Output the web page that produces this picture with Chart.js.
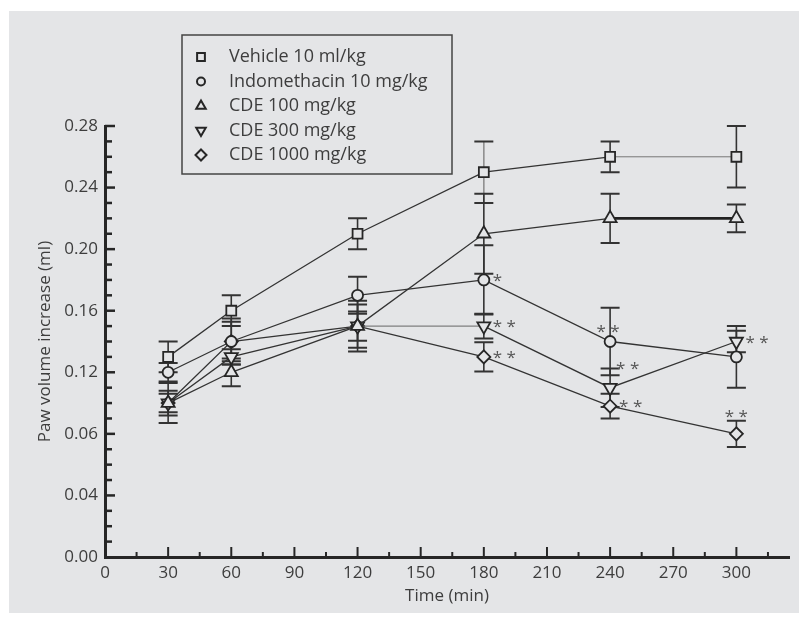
<!DOCTYPE html>
<html lang="en">
<head>
<meta charset="UTF-8">
<title>Paw volume increase</title>
<script src="https://cdn.jsdelivr.net/npm/chart.js"></script>
<style>
  body { margin: 0; background: #fff; }
  canvas { display: block; }
</style>
</head>
<body>
<canvas id="paw" width="806" height="623"></canvas>
<script>
// --- data ---
const times = [30, 60, 120, 180, 240, 300];
const seriesNames = ['Vehicle 10 ml/kg', 'Indomethacin 10 mg/kg', 'CDE 100 mg/kg', 'CDE 300 mg/kg', 'CDE 1000 mg/kg'];

const vehicle    = [0.13, 0.16, 0.21, 0.25, 0.26, 0.26];
const vehicleErr = [0.010, 0.010, 0.010, 0.020, 0.010, 0.020];
const indo       = [0.12, 0.14, 0.17, 0.18, 0.14, 0.13];
const indoErr    = [0.006, 0.015, 0.012, 0.0225, 0.022, 0.020];
const cde100     = [0.10, 0.12, 0.15, 0.21, 0.22, 0.22];
const cde100Err  = [0.008, 0.009, 0.014, 0.026, 0.016, 0.009];
const cde300     = [0.10, 0.13, 0.15, 0.15, 0.11, 0.14];
const cde300Err  = [0.006, 0.005, 0.0095, 0.008, 0.0125, 0.007];
const cde1000    = [0.10, 0.14, 0.15, 0.13, 0.098, 0.08];
const cde1000Err = [0.013, 0.0128, 0.0165, 0.0095, 0.008, 0.0085];

const xTicks = [0, 30, 60, 90, 120, 150, 180, 210, 240, 270, 300];
const yTicks = [0, 0.04, 0.08, 0.12, 0.16, 0.20, 0.24, 0.28];
const yTickLabels = ['0.00', '0.04', '0.06', '0.12', '0.16', '0.20', '0.24', '0.28'];

// significance marks: series index, time, text, where it sits
const stars = [
  { s: 1, t: 180, text: '*',   at: 'right' },
  { s: 3, t: 180, text: '* *', at: 'right' },
  { s: 4, t: 180, text: '* *', at: 'right' },
  { s: 1, t: 240, text: '* *', at: 'above' },
  { s: 3, t: 240, text: '* *', at: 'upright' },
  { s: 4, t: 240, text: '* *', at: 'right' },
  { s: 3, t: 300, text: '* *', at: 'right' },
  { s: 4, t: 300, text: '* *', at: 'overbar' }
];

const values = [vehicle, indo, cde100, cde300, cde1000];
const errors = [vehicleErr, indoErr, cde100Err, cde300Err, cde1000Err];

// --- look ---
const BG = '#e4e5e7';
const INK = '#262626';
const TEXT = '#3d3d3d';
const FONT = "'Open Sans', sans-serif";
const markers = [
  { style: 'rect', r: 7, rot: 0 },
  { style: 'circle', r: 5.5, rot: 0 },
  { style: 'triangle', r: 7.5, rot: 0 },
  { style: 'triangle', r: 7.5, rot: 180 },
  { style: 'rectRot', r: 6.5, rot: 0 }
];
// a few segments are drawn lighter or heavier in the original
const segStyle = [
  { 4: { w: 1, c: '#777' } },
  {},
  { 4: { w: 2.6, c: '#222' } },
  { 2: { w: 1, c: '#666' } },
  {}
];

Chart.defaults.font.family = FONT;
Chart.defaults.color = TEXT;

function drawMarker(ctx, m, x, y, r) {
  ctx.beginPath();
  if (m.style === 'circle') {
    ctx.arc(x, y, r, 0, Math.PI * 2);
  } else if (m.style === 'rect') {
    const h = r * Math.SQRT1_2;
    ctx.rect(x - h, y - h, 2 * h, 2 * h);
  } else if (m.style === 'rectRot') {
    ctx.moveTo(x, y - r); ctx.lineTo(x + r, y); ctx.lineTo(x, y + r); ctx.lineTo(x - r, y);
    ctx.closePath();
  } else {
    const d = m.rot ? -1 : 1;
    ctx.moveTo(x, y - d * r);
    ctx.lineTo(x + r * 0.866, y + d * r / 2);
    ctx.lineTo(x - r * 0.866, y + d * r / 2);
    ctx.closePath();
  }
  ctx.fill();
  ctx.stroke();
}

const background = {
  id: 'background',
  beforeDraw(chart) {
    const ctx = chart.ctx;
    ctx.save();
    ctx.fillStyle = '#fff';
    ctx.fillRect(0, 0, chart.width, chart.height);
    ctx.fillStyle = BG;
    ctx.fillRect(9, 11, 790, 602);
    ctx.restore();
  }
};

const errorBars = {
  id: 'errorBars',
  beforeDatasetsDraw(chart) {
    const { ctx, scales: { x, y } } = chart;
    ctx.save();
    values.forEach((vals, i) => {
      vals.forEach((v, j) => {
        const px = x.getPixelForValue(times[j]);
        const top = y.getPixelForValue(v + errors[i][j]);
        const bot = y.getPixelForValue(v - errors[i][j]);
        ctx.strokeStyle = (i === 0 && times[j] === 180) ? '#8e8e8e' : '#333';
        ctx.lineWidth = 1.6;
        ctx.beginPath();
        ctx.moveTo(px, top); ctx.lineTo(px, bot);
        ctx.stroke();
        ctx.strokeStyle = '#333';
        ctx.lineWidth = 2;
        ctx.beginPath();
        ctx.moveTo(px - 9.5, top); ctx.lineTo(px + 9.5, top);
        ctx.moveTo(px - 9.5, bot); ctx.lineTo(px + 9.5, bot);
        ctx.stroke();
      });
    });
    ctx.restore();
  }
};

const innerTicks = {
  id: 'innerTicks',
  afterDraw(chart) {
    const { ctx, scales: { x, y } } = chart;
    ctx.save();
    ctx.strokeStyle = INK;
    // x ticks every 15, labelled ones longer
    ctx.lineWidth = 2;
    for (let t = 15; t <= x.max; t += 15) {
      const px = x.getPixelForValue(t);
      const len = t % 30 === 0 ? 10 : 5;
      ctx.beginPath();
      ctx.moveTo(px, y.bottom); ctx.lineTo(px, y.bottom - len);
      ctx.stroke();
    }
    // y ticks every 0.01
    ctx.lineWidth = 2.5;
    for (let k = 1; k <= 28; k++) {
      const py = y.getPixelForValue(k / 100);
      const len = k % 4 === 0 ? 10 : 7;
      ctx.beginPath();
      ctx.moveTo(x.left, py); ctx.lineTo(x.left + len, py);
      ctx.stroke();
    }
    ctx.restore();
  }
};

const legendAndStars = {
  id: 'legendAndStars',
  afterDraw(chart) {
    const { ctx, scales: { x, y } } = chart;
    ctx.save();
    // legend box
    ctx.strokeStyle = '#444';
    ctx.lineWidth = 1.5;
    ctx.strokeRect(182, 35, 270, 139);
    ctx.font = '18px ' + FONT;
    ctx.textBaseline = 'middle';
    ctx.textAlign = 'left';
    seriesNames.forEach((name, i) => {
      const cy = 57 + i * 24.5;
      ctx.fillStyle = BG;
      ctx.strokeStyle = INK;
      ctx.lineWidth = 2;
      drawMarker(ctx, markers[i], 201, cy, markers[i].style === 'circle' ? 4 : 5.5);
      ctx.fillStyle = TEXT;
      ctx.fillText(name, 229, cy);
    });
    // significance marks
    ctx.font = '17px ' + FONT;
    ctx.textBaseline = 'alphabetic';
    ctx.fillStyle = '#555';
    stars.forEach(st => {
      const j = times.indexOf(st.t);
      const px = x.getPixelForValue(st.t);
      const v = values[st.s][j];
      const py = y.getPixelForValue(v);
      if (st.at === 'right') { ctx.textAlign = 'left'; ctx.fillText(st.text, px + 9, py + 6); }
      else if (st.at === 'upright') { ctx.textAlign = 'left'; ctx.fillText(st.text, px + 6, py - 14); }
      else if (st.at === 'overbar') {
        ctx.textAlign = 'center';
        ctx.fillText(st.text, px, y.getPixelForValue(v + errors[st.s][j]) + 1);
      }
      else { ctx.textAlign = 'center'; ctx.fillText(st.text, px - 2, py - 5); }
    });
    ctx.restore();
  }
};

const datasets = values.map((vals, i) => ({
  label: seriesNames[i],
  data: vals.map((v, j) => ({ x: times[j], y: v })),
  borderColor: '#333',
  borderWidth: 1.3,
  segment: {
    borderWidth: c => (segStyle[i][c.p0DataIndex] || {}).w,
    borderColor: c => (segStyle[i][c.p0DataIndex] || {}).c
  },
  pointStyle: markers[i].style,
  pointRadius: markers[i].r,
  pointRotation: markers[i].rot,
  pointBackgroundColor: BG,
  pointBorderColor: INK,
  pointBorderWidth: 1.8,
  tension: 0
}));

new Chart(document.getElementById('paw'), {
  type: 'line',
  data: { datasets },
  plugins: [background, errorBars, innerTicks, legendAndStars],
  options: {
    responsive: false,
    animation: false,
    layout: { padding: { left: 0, top: 126, right: 17, bottom: 0 } },
    plugins: { legend: { display: false }, tooltip: { enabled: false } },
    scales: {
      x: {
        type: 'linear',
        min: 0,
        max: 325,
        afterFit: s => { s.height = 66; },
        afterBuildTicks: s => { s.ticks = xTicks.map(v => ({ value: v })); },
        grid: { display: false, drawTicks: false },
        border: { display: true, color: INK, width: 3 },
        ticks: { font: { size: 17 }, padding: 6, maxRotation: 0, autoSkip: false },
        title: { display: true, text: 'Time (min)', font: { size: 17 }, padding: { top: 0, bottom: 17 } }
      },
      y: {
        min: 0,
        max: 0.28,
        afterFit: s => { s.width = 105; },
        afterBuildTicks: s => { s.ticks = yTicks.map(v => ({ value: v })); },
        grid: { display: false, drawTicks: false },
        border: { display: true, color: INK, width: 3 },
        ticks: { font: { size: 17 }, padding: 7, autoSkip: false,
                 callback: (v, i) => yTickLabels[i] },
        title: { display: true, text: 'Paw volume increase (ml)', font: { size: 17 }, padding: { top: 35, bottom: 0 } }
      }
    }
  }
});
</script>
</body>
</html>
